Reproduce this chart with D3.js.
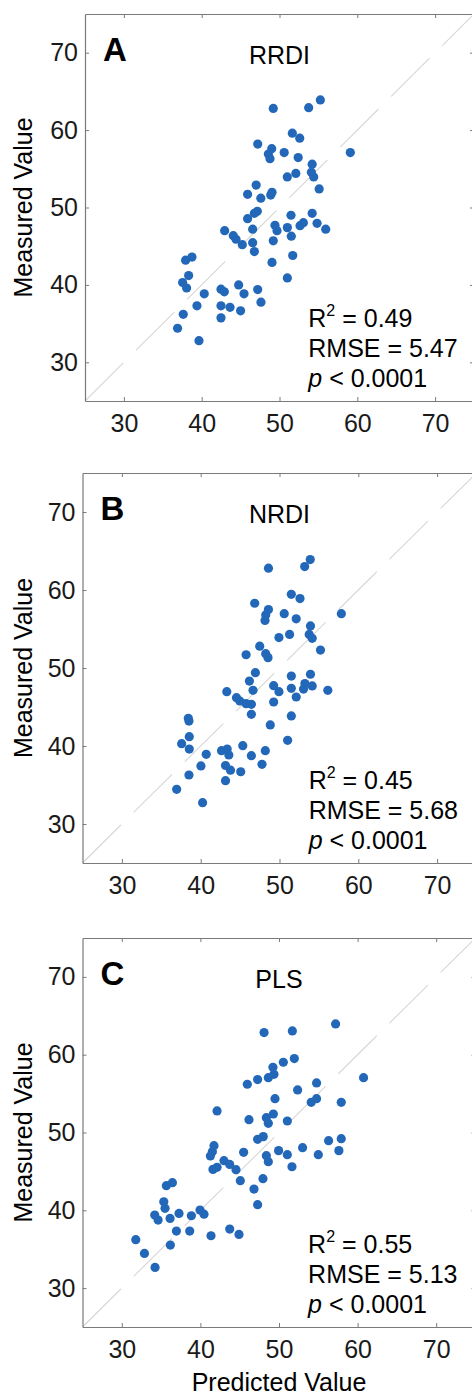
<!DOCTYPE html>
<html>
<head>
<meta charset="utf-8">
<script src="https://cdn.jsdelivr.net/npm/d3@7"></script>
<style>
  body { margin: 0; background: #fff; }
  svg { display: block; font-family: "Liberation Sans", Arial, Helvetica, sans-serif; }
  .frame path.domain { stroke: #7a7a7a; stroke-width: 1.2; }
  .frame line { stroke: #7a7a7a; stroke-width: 1; }
  .frame text { font-size: 25px; fill: #1a1a1a; }
</style>
</head>
<body>
<script>
// values
var tickValues = [30, 40, 50, 60, 70];
var panelLetters = ["A", "B", "C"];
var panelTitles = ["RRDI", "NRDI", "PLS"];
var r2Values = ["0.49", "0.45", "0.55"];
var rmseValues = ["5.47", "5.68", "5.13"];
var pText = "< 0.0001";

var rrdiPred = [49.2, 53.75, 55.25, 51.65, 52.6, 47.2, 49.0, 48.57, 48.78, 50.6, 52.4, 59.1, 54.2, 54.1, 54.4,
  52.1, 51.0, 55.1, 47.0, 45.9, 47.6, 48.87, 49.04, 47.15, 46.77, 45.9, 54.2, 51.48, 49.42, 49.68, 51.01,
  52.64, 53.07, 54.83, 55.94, 51.52, 49.2, 42.95, 44.06, 44.41, 45.22, 46.55, 46.55, 46.77, 51.7, 49.04,
  51.01, 37.93, 38.75, 38.32, 37.55, 38.06, 40.33, 42.48, 42.91, 44.75, 45.44, 47.2, 47.62, 39.39, 42.48,
  43.64, 45.0, 37.63, 42.48, 36.9, 39.65];
var rrdiMeas = [62.8, 62.9, 63.9, 59.6, 58.96, 58.2, 57.6, 56.9, 56.3, 57.1, 56.45, 57.1, 55.6, 54.55, 53.95,
  54.4, 53.95, 52.4, 52.9, 51.7, 51.2, 51.6, 51.97, 49.5, 49.25, 48.55, 49.25, 49.0, 47.7, 47.0, 47.4,
  47.65, 48.04, 47.95, 47.2, 46.3, 45.7, 47.0, 46.36, 45.9, 45.2, 47.2, 45.45, 44.3, 43.8, 42.9,
  40.9, 43.2, 43.6, 41.2, 40.3, 39.6, 38.85, 39.45, 39.1, 40.0, 38.85, 39.4, 37.77, 37.3, 37.3,
  37.1, 36.65, 36.2, 35.74, 34.4, 32.8];

var nrdiPred = [48.6, 53.2, 53.9, 51.5, 52.6, 46.85, 48.6, 48.25, 48.16, 50.6, 52.12, 57.85, 53.93, 53.77, 54.15,
  51.28, 49.93, 55.2, 47.49, 45.76, 48.25, 48.54, 46.94, 46.18, 46.64, 49.26, 49.93, 51.5, 53.93, 51.5,
  53.22, 53.05, 54.15, 56.13, 52.12, 49.26, 43.31, 44.54, 44.96, 45.76, 46.43, 46.43, 51.5, 48.83, 51.03,
  38.43, 38.51, 38.55, 37.58, 38.55, 40.7, 42.64, 43.36, 43.57, 45.34, 46.43, 48.2, 47.78, 40.03, 43.15,
  43.78, 45.08, 38.51, 43.15, 36.95, 40.24];
var nrdiMeas = [62.8, 63.0, 63.9, 59.45, 58.9, 58.3, 57.5, 56.8, 56.1, 56.97, 56.3, 56.97, 55.4, 54.3, 53.8,
  54.3, 53.9, 52.3, 52.8, 51.7, 51.84, 51.33, 49.4, 48.33, 47.14, 47.74, 46.97, 48.97, 49.2, 47.4,
  48.0, 47.3, 47.7, 47.14, 46.28, 45.64, 46.97, 46.2, 45.77, 45.43, 45.34, 44.06, 43.85, 42.7, 40.73,
  43.55, 43.2, 41.2, 40.3, 39.6, 38.93, 39.4, 39.6, 38.85, 40.04, 38.76, 39.4, 37.65, 37.44, 37.5,
  36.9, 36.7, 36.28, 35.56, 34.45, 32.73];

var plsPred = [57.2, 48.1, 51.7, 51.95, 50.55, 49.23, 49.36, 48.64, 47.28, 45.97, 60.76, 54.78, 52.37, 49.49, 54.78,
  54.1, 57.92, 42.12, 46.18, 48.39, 49.28, 48.64, 51.06, 48.0, 47.28, 56.31, 57.92, 57.62, 53.0, 55.0,
  41.73, 41.52, 41.27, 45.5, 48.39, 48.64, 49.95, 51.06, 51.65, 43.0, 43.73, 44.53, 42.12, 41.6, 47.96,
  45.08, 46.82, 47.28, 35.67, 36.44, 35.34, 35.5, 34.19, 34.62, 36.14, 37.28, 38.85, 39.95, 40.46, 36.95,
  38.64, 41.35, 43.73, 44.91, 31.78, 32.88, 36.18, 34.23];
var plsMeas = [63.96, 62.84, 63.06, 59.5, 59.03, 58.38, 57.48, 57.05, 56.8, 56.2, 57.05, 56.37, 55.47, 54.35, 54.35,
  53.88, 53.88, 52.77, 51.65, 51.9, 52.38, 51.18, 51.48, 49.47, 49.12, 48.95, 49.2, 47.67, 48.05, 47.15,
  48.31, 47.54, 46.98, 47.45, 47.02, 46.25, 47.67, 47.15, 45.6, 46.38, 45.9, 45.22, 45.52, 45.26, 44.06,
  43.81, 42.73, 40.72, 43.16, 43.55, 41.1, 40.25, 39.39, 38.75, 38.96, 39.6, 39.3, 40.03, 39.5, 37.33,
  37.33, 36.73, 37.59, 36.9, 36.22, 34.46, 35.53, 32.66];

var predSeries = [rrdiPred, nrdiPred, plsPred];
var measSeries = [rrdiMeas, nrdiMeas, plsMeas];

// layout
var w = 472, h = 1396;
var boxes = [
  {x: 85, y: 14, w: 389, h: 387},
  {x: 82.5, y: 473, w: 394, h: 390},
  {x: 82.5, y: 938, w: 393, h: 389}
];
var dotColor = "#2368b8";

var svg = d3.select("body")
            .append("svg")
            .attr("width", w)
            .attr("height", h);

boxes.forEach(function(b, i) {
  var xScale = d3.scaleLinear().domain([25, 75]).range([b.x, b.x + b.w]);
  var yScale = d3.scaleLinear().domain([25, 75]).range([b.y + b.h, b.y]);
  var g = svg.append("g");

  // 1:1 reference line
  g.append("line")
    .attr("x1", xScale(25)).attr("y1", yScale(25))
    .attr("x2", xScale(75)).attr("y2", yScale(75))
    .attr("stroke", "#d6d6d6")
    .attr("stroke-width", 1.1)
    .attr("stroke-dasharray", "54,18");

  // frame: all four sides, ticks pointing in
  g.append("g").attr("class", "frame")
    .attr("transform", "translate(0," + (b.y + b.h) + ")")
    .call(d3.axisBottom(xScale).tickValues(tickValues).tickSizeInner(-4).tickSizeOuter(0).tickPadding(13));
  g.append("g").attr("class", "frame")
    .attr("transform", "translate(" + b.x + ",0)")
    .call(d3.axisLeft(yScale).tickValues(tickValues).tickSizeInner(-4).tickSizeOuter(0).tickPadding(7));
  g.append("g").attr("class", "frame")
    .attr("transform", "translate(0," + b.y + ")")
    .call(d3.axisTop(xScale).tickValues(tickValues).tickSizeInner(-4).tickSizeOuter(0).tickFormat(""));
  g.append("g").attr("class", "frame")
    .attr("transform", "translate(" + (b.x + b.w) + ",0)")
    .call(d3.axisRight(yScale).tickValues(tickValues).tickSizeInner(-4).tickSizeOuter(0).tickFormat(""));

  // points
  var pts = predSeries[i].map(function(d, j) { return [d, measSeries[i][j]]; });
  g.selectAll("circle")
    .data(pts)
    .enter()
    .append("circle")
      .attr("cx", function(d) { return xScale(d[0]); })
      .attr("cy", function(d) { return yScale(d[1]); })
      .attr("r", 4.6)
      .attr("fill", dotColor);

  // panel letter and title
  g.append("text")
    .attr("x", b.x + 18)
    .attr("y", b.y + 47)
    .attr("font-size", 33)
    .attr("font-weight", "bold")
    .text(panelLetters[i]);
  g.append("text")
    .attr("x", xScale(50))
    .attr("y", b.y + 50)
    .attr("text-anchor", "middle")
    .attr("font-size", 25)
    .text(panelTitles[i]);

  // stats block
  var sx = xScale(53.7);
  var yb = b.y + b.h;
  var t1 = g.append("text").attr("x", sx).attr("y", yb - 74).attr("font-size", 25);
  t1.append("tspan").text("R");
  t1.append("tspan").attr("font-size", 16).attr("dy", -11).text("2");
  t1.append("tspan").attr("dy", 11).text(" = " + r2Values[i]);
  g.append("text").attr("x", sx).attr("y", yb - 44).attr("font-size", 25)
    .text("RMSE = " + rmseValues[i]);
  var t3 = g.append("text").attr("x", sx).attr("y", yb - 14).attr("font-size", 25);
  t3.append("tspan").attr("font-style", "italic").text("p");
  t3.append("tspan").text(" " + pText);

  // y axis title
  g.append("text")
    .attr("transform", "translate(32," + yScale(50) + ") rotate(-90)")
    .attr("text-anchor", "middle")
    .attr("font-size", 25)
    .text("Measured Value");

  if (i === boxes.length - 1) {
    g.append("text")
      .attr("x", xScale(50))
      .attr("y", 1391)
      .attr("text-anchor", "middle")
      .attr("font-size", 25)
      .text("Predicted Value");
  }
});
</script>
</body>
</html>
